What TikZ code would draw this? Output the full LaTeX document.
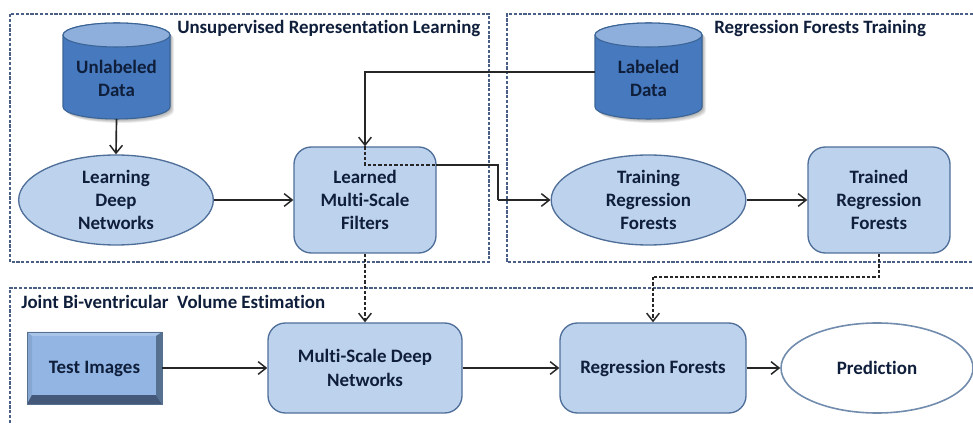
\documentclass[tikz,border=0pt]{standalone}
\usepackage{fontspec}
\setmainfont[Ligatures=NoCommon]{Carlito}
\usetikzlibrary{shapes.geometric,arrows.meta,shadows}
\definecolor{txt}{HTML}{0F1E3A}
\definecolor{lblue}{HTML}{BDD2ED}
\definecolor{edgeb}{HTML}{4F6F99}
\definecolor{cylb}{HTML}{4679BE}
\definecolor{cylt}{HTML}{8EAEDB}
\definecolor{cyle}{HTML}{3A6496}
\definecolor{frame}{HTML}{4A5F85}
\definecolor{face}{HTML}{92B5E3}
\definecolor{conncol}{HTML}{262626}
\definecolor{bevb}{HTML}{44587A}
\definecolor{bevr}{HTML}{56708F}
\newcommand{\dbpath}[1]{([yshift=-9pt]#1.north west) -- ([yshift=9pt]#1.south west) arc[start angle=180,end angle=360,x radius=40.125pt,y radius=9pt] -- ([yshift=-9pt]#1.north east) arc[start angle=0,end angle=180,x radius=40.125pt,y radius=9pt] -- cycle}
\newcommand{\dbdraw}[1]{%
  \foreach \k in {0.6,1.2,1.8,2.4,3}{\fill[black,opacity=.07,transform canvas={xshift=\k pt,yshift=-\k pt}] \dbpath{#1};}
  \draw[db] \dbpath{#1};
  \draw[dbtop] ([yshift=-9pt]#1.north) ellipse [x radius=40.125pt,y radius=9pt];
}
\tikzset{
 x=0.75pt,y=-0.75pt,
 lab/.style={font=\bfseries\fontsize{14.2pt}{17.25pt}\selectfont,text=txt,align=center},
 titlelab/.style={font=\bfseries\fontsize{14.15pt}{17pt}\selectfont,text=txt,anchor=west,inner sep=0pt},
 ell/.style={ellipse,draw=edgeb,line width=1pt,fill=lblue,inner sep=0pt,minimum width=146pt,minimum height=67.5pt,lab},
 rbox/.style={rectangle,rounded corners=13pt,draw=edgeb,line width=1pt,fill=lblue,inner sep=0pt,lab},
 dbframe/.style={rectangle,inner sep=0pt,outer sep=0pt,minimum width=80.25pt,minimum height=72pt},
 db/.style={draw=cyle,line width=.8pt,fill=cylb},
 dbtop/.style={draw=cyle,line width=.8pt,fill=cylt},
 frameb/.style={draw=frame,line width=.9pt,dash pattern=on 2.4pt off 1.2pt},
 barb/.style={-{Straight Barb[length=6pt,width=9.5pt,line width=1.1pt]}},
 conn/.style={draw=conncol,line width=1.25pt,barb},
 line/.style={draw=conncol,line width=1.25pt},
 dline/.style={draw=conncol,line width=1.1pt,dash pattern=on 2.6pt off 1.4pt},
}
\begin{document}
\begin{tikzpicture}
\useasboundingbox (0,0) rectangle (973,423);
\fill[white] (0,0) rectangle (973,423);
% frames
\draw[frameb] (10,14) rectangle (489,262);
\draw[frameb] (973,14) -- (507,14) -- (507,262) -- (973,262);
\draw[frameb] (10,423) -- (10,288) -- (973,288);
% titles
\node[titlelab] (t1) at (177,28) {Unsupervised Representation Learning};
\node[titlelab] (t2) at (714,28) {Regression Forests Training};
\node[titlelab] (t3) at (21,302) {Joint Bi-ventricular\ \ Volume Estimation};
% data stores
\node[dbframe] (unl) at (116.5,71) {};
\node[dbframe] (labd) at (648.5,71) {};
\dbdraw{unl}
\dbdraw{labd}
\node[lab] (unlt) at (116.5,78.5) {Unlabeled\\Data};
\node[lab] (labt) at (648.5,78.5) {Labeled\\Data};
% nodes
\node[ell] (ld) at (116,200) {Learning\\Deep\\Networks};
\node[rbox,minimum width=106.5pt,minimum height=79.5pt] (lf) at (365,200) {Learned\\Multi-Scale\\Filters};
\node[ell] (tr) at (648.5,200) {Training\\Regression\\Forests};
\node[rbox,minimum width=106.5pt,minimum height=79.5pt] (tdf) at (879,200) {Trained\\Regression\\Forests};
% bevelled box
\node[rectangle,inner sep=0pt,outer sep=0pt,fill=face,minimum width=101.25pt,minimum height=54pt,
   drop shadow={opacity=.2,shadow xshift=1pt,shadow yshift=-1pt}] (ti) at (94.5,368) {};
\fill[face!80!white] (ti.north west) -- (ti.north east) -- ([shift={(-6,4)}]ti.north east) -- ([shift={(5,4)}]ti.north west) -- cycle;
\fill[face!92!black] (ti.north west) -- ([shift={(5,4)}]ti.north west) -- ([shift={(5,-9)}]ti.south west) -- (ti.south west) -- cycle;
\fill[bevb] (ti.south west) -- (ti.south east) -- ([shift={(-6,-9)}]ti.south east) -- ([shift={(5,-9)}]ti.south west) -- cycle;
\fill[bevr] (ti.north east) -- (ti.south east) -- ([shift={(-6,-9)}]ti.south east) -- ([shift={(-6,4)}]ti.north east) -- cycle;
\draw[bevr,line width=.5pt] (ti.north west) rectangle (ti.south east);
\node[lab] (til) at (94.5,369) {Test Images};
\node[rbox,minimum width=145.5pt,minimum height=67.5pt] (ms) at (365,368) {Multi-Scale Deep\\[1pt]Networks};
\node[rbox,minimum width=139.5pt,minimum height=67.5pt] (rf) at (653,368) {Regression Forests};
\node[ellipse,draw=edgeb!80!white,line width=1.2pt,fill=white,inner sep=0pt,minimum width=144pt,minimum height=67.5pt,lab] (pr) at (877,368) {Prediction};
% connectors
\path[conn] (unl.south) -- (ld.north);
\path[conn] (ld.east) -- (lf.west);
\path[conn] (tr.east) -- (tdf.west);
\path[conn] (ti.east) -- (ms.west);
\path[conn] (ms.east) -- (rf.west);
\path[conn] (rf.east) -- (pr.west);
\coordinate (c1) at (365,72);
\coordinate (c2) at (365,165);
\coordinate (c3) at (436,165);
\coordinate (c4) at (498,165);
\coordinate (c5) at (498,200);
\coordinate (c6) at (879,277);
\coordinate (c7) at (653,277);
\path[conn] (labd.west |- c1) -- (c1) -- (lf.north);
\path[dline] (lf.north) -- (c2) -- (c3);
\path[line] (c3) -- (c4) -- (c5);
\path[conn] (c5) -- (tr.west);
\path[dline,barb] (lf.south) -- (ms.north);
\path[dline] (tdf.south) -- (c6) -- (c7);
\path[dline,barb] (c7) -- (rf.north);
\end{tikzpicture}
\end{document}
